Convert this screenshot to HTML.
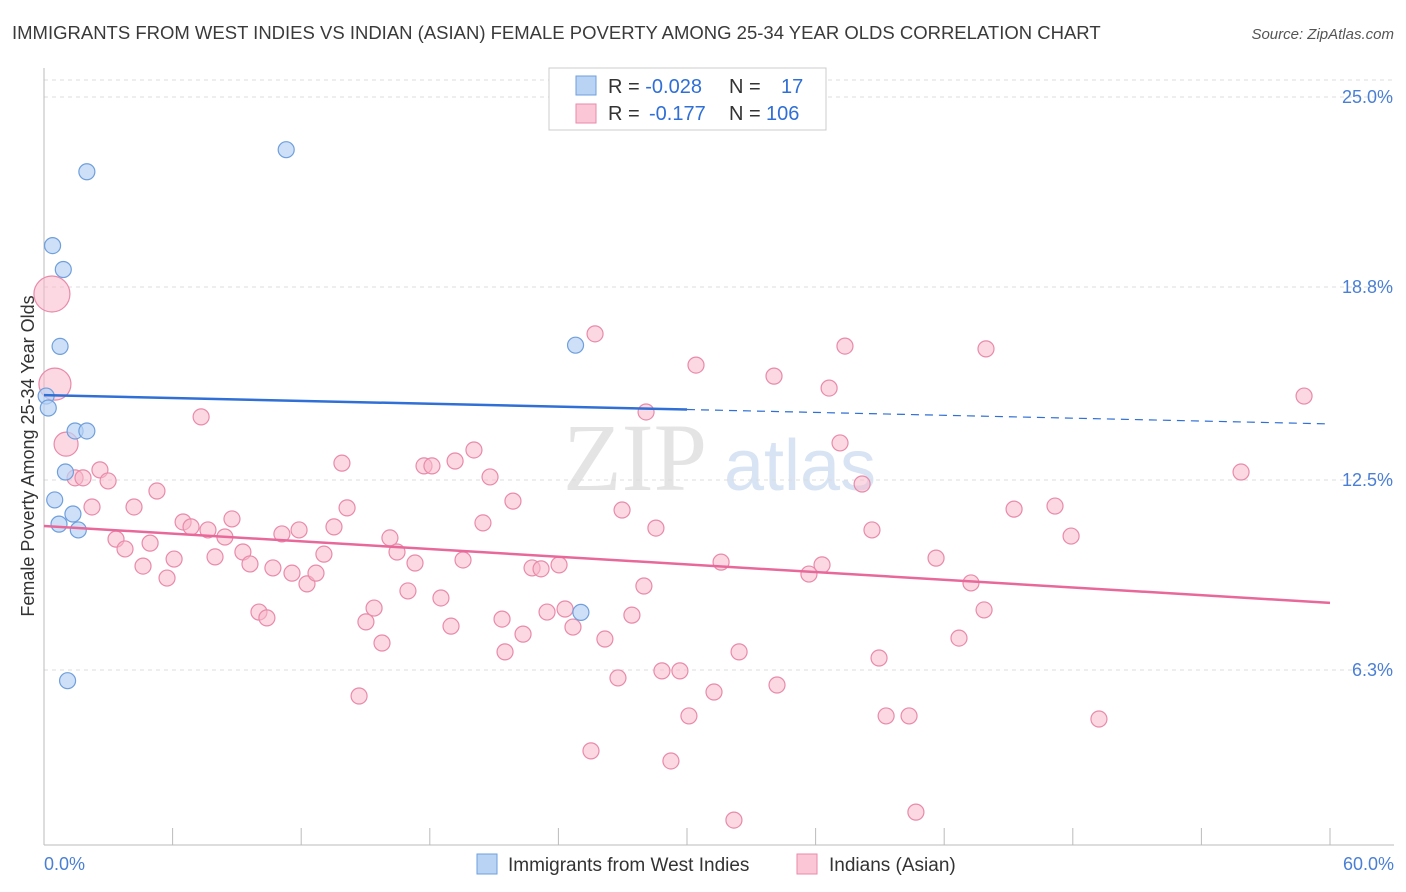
<!DOCTYPE html>
<html><head><meta charset="utf-8"><style>
body{margin:0;background:#fff;font-family:"Liberation Sans",sans-serif;}
svg{display:block}
</style></head><body>
<svg id="chart" width="1406" height="892">
<text x="12" y="39" font-size="18.5" fill="#3a3a3a">IMMIGRANTS FROM WEST INDIES VS INDIAN (ASIAN) FEMALE POVERTY AMONG 25-34 YEAR OLDS CORRELATION CHART</text>
<text x="1394" y="39" font-size="15" fill="#555" text-anchor="end" font-style="italic">Source: ZipAtlas.com</text>
<text x="635" y="490" font-size="96" fill="#e4e4e4" font-family="Liberation Serif,serif" text-anchor="middle">ZIP</text>
<text x="800" y="490" font-size="72" fill="#d8e4f4" text-anchor="middle">atlas</text>
<text transform="translate(34,456) rotate(-90)" font-size="18" fill="#333" text-anchor="middle">Female Poverty Among 25-34 Year Olds</text>
<g id="grid"></g><g id="pts"></g><g id="lines"></g>
<g>
<rect x="549" y="68" width="277" height="62" fill="#fff" stroke="#ccc"/>
<rect x="576" y="76" width="20" height="19" fill="#b9d3f5" stroke="#6f9fdc"/>
<rect x="576" y="104" width="20" height="19" fill="#fbc6d5" stroke="#e98aaa"/>
<text x="608" y="93" font-size="20" fill="#333">R = <tspan fill="#2f6fd6">-0.028</tspan><tspan x="729">N = </tspan><tspan x="781" fill="#2f6fd6">17</tspan></text>
<text x="608" y="120" font-size="20" fill="#333">R = <tspan x="649" fill="#2f6fd6">-0.177</tspan><tspan x="729">N = </tspan><tspan x="766" fill="#2f6fd6">106</tspan></text>
</g>
<g>
<rect x="477" y="854" width="20" height="20" fill="#b9d3f5" stroke="#6f9fdc"/>
<text x="508" y="871" font-size="19" fill="#333">Immigrants from West Indies</text>
<rect x="797" y="854" width="20" height="20" fill="#fbc6d5" stroke="#e98aaa"/>
<text x="829" y="871" font-size="19" fill="#333">Indians (Asian)</text>
</g>
</svg>
<script>
const yTicks=[25.0,18.8,12.5,6.3];
const yTickLabels=["25.0%","18.8%","12.5%","6.3%"];
const xTickLabels=["0.0%","60.0%"];
const blueX=[2.0,11.3,0.4,0.9,0.75,24.8,0.1,0.2,1.45,2.0,1.0,0.5,1.35,0.7,1.6,25.05,1.1];
const blueY=[22.56,23.28,20.15,19.37,16.86,16.9,15.24,14.85,14.1,14.1,12.76,11.85,11.39,11.06,10.87,8.18,5.95];
const pinkPx=[[52,294],[55,384],[66,444],[75,478],[83,478],[100,470],[108,481],[92,507],[134,507],[116,539],[125,549],[143,566],[150,543],[157,491],[167,578],[174,559],[183,522],[191,527],[201,417],[208,530],[215,557],[225,537],[232,519],[243,552],[250,564],[259,612],[267,618],[273,568],[282,534],[292,573],[299,530],[307,584],[316,573],[324,554],[334,527],[347,508],[342,463],[359,696],[366,622],[374,608],[382,643],[390,538],[397,552],[408,591],[415,563],[424,466],[432,466],[441,598],[451,626],[455,461],[463,560],[474,450],[483,523],[490,477],[505,652],[502,619],[513,501],[523,634],[532,568],[541,569],[547,612],[559,565],[565,609],[573,627],[591,751],[595,334],[605,639],[618,678],[622,510],[632,615],[644,586],[646,412],[656,528],[662,671],[671,761],[680,671],[689,716],[696,365],[714,692],[721,562],[734,820],[739,652],[774,376],[777,685],[809,574],[822,565],[829,388],[840,443],[845,346],[862,484],[872,530],[879,658],[886,716],[909,716],[916,812],[936,558],[959,638],[971,583],[984,610],[986,349],[1014,509],[1055,506],[1071,536],[1099,719],[1241,472],[1304,396]];
const pinkX=pinkPx.map(p=>+((p[0]-44)/21.433).toFixed(2));
const pinkY=pinkPx.map(p=>+(25-(p[1]-97)/30.64).toFixed(2));
const pinkR=[18,16,12];
const blueTrend=[15.27,14.33];
const pinkTrend=[11.0,8.49];
const NS="http://www.w3.org/2000/svg";
const xS=v=>44+v*1286/60, yS=v=>97+(25-v)*30.64;
function mk(t,a,p){const e=document.createElementNS(NS,t);for(const k in a)e.setAttribute(k,a[k]);p.appendChild(e);return e;}
const g=document.getElementById('grid');
let l=mk('line',{x1:44,x2:1394,y1:80,y2:80,stroke:'#ddd','stroke-dasharray':'4,4'},g);


yTicks.forEach((v,i)=>{
 const gl=mk('line',{x1:44,x2:1394,y1:yS(v),y2:yS(v),stroke:'#ddd','stroke-dasharray':'4,4'},g);
 
 
 const t=mk('text',{x:1393,y:yS(v)+6,'font-size':18,fill:'#4a7fd4','text-anchor':'end'},g);t.textContent=yTickLabels[i];
 
 
});
const ax=mk('line',{x1:44,x2:1394,y1:845,y2:845,stroke:'#bbb'},g);


const ay=mk('line',{x1:44,x2:44,y1:68,y2:845,stroke:'#bbb'},g);


for(let i=0;i<=10;i++){const tk=mk('line',{x1:xS(i*6),x2:xS(i*6),y1:828,y2:845,stroke:'#bbb'},g);
 
 }
[[0,44,'start'],[60,1394,'end']].forEach((a,i)=>{const t=mk('text',{x:a[1],y:870,'font-size':18,fill:'#4a7fd4','text-anchor':a[2]},g);t.textContent=xTickLabels[i];
 
 });
const P=document.getElementById('pts');
pinkX.forEach((x,i)=>{const c=mk('circle',{cx:xS(x),cy:yS(pinkY[i]),r:pinkR[i]||8,fill:'#f7b8cb','fill-opacity':0.55,stroke:'#e98aaa','stroke-width':1.2},P);
 
 });
blueX.forEach((x,i)=>{const c=mk('circle',{cx:xS(x),cy:yS(blueY[i]),r:8,fill:'#b9d3f5','fill-opacity':0.7,stroke:'#6f9fdc','stroke-width':1.2},P);
 
 });
const L=document.getElementById('lines');
const by=x=>blueTrend[0]+(blueTrend[1]-blueTrend[0])*x/60;
let b1=mk('line',{x1:xS(0),y1:yS(by(0)),x2:xS(30),y2:yS(by(30)),stroke:'#2f6fd6','stroke-width':2.5},L);


let b2=mk('line',{x1:xS(30),y1:yS(by(30)),x2:xS(60),y2:yS(by(60)),stroke:'#2f6fd6','stroke-width':1.2,'stroke-dasharray':'8,6'},L);


let p1=mk('line',{x1:xS(0),y1:yS(pinkTrend[0]),x2:xS(60),y2:yS(pinkTrend[1]),stroke:'#e8689a','stroke-width':2.5},L);


</script>
</body></html>
